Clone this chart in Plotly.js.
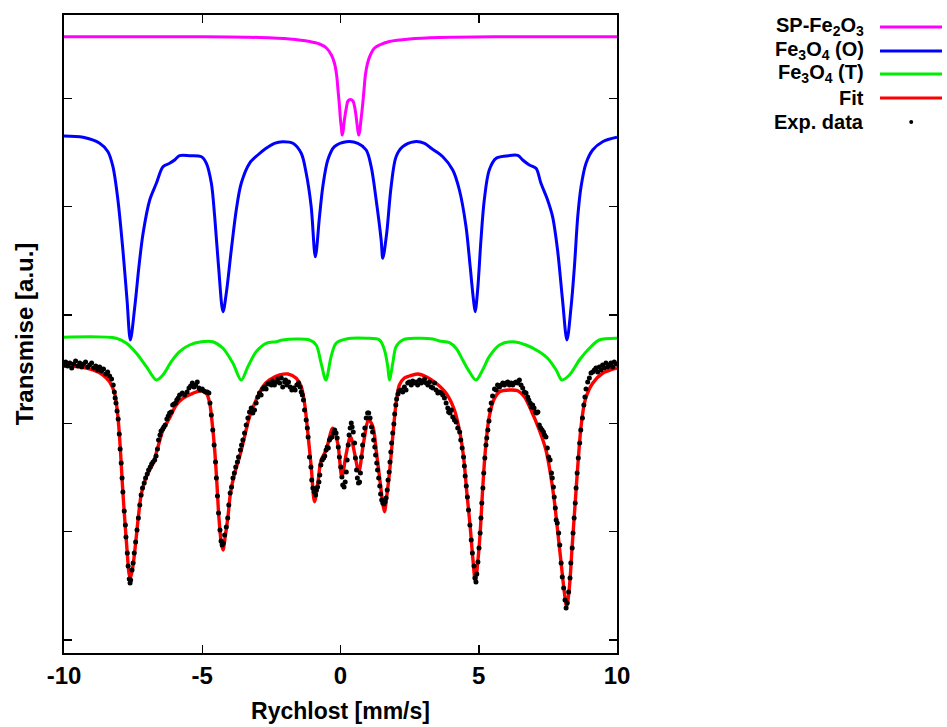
<!DOCTYPE html>
<html><head><meta charset="utf-8">
<script src="https://cdn.plot.ly/plotly-3.0.1.min.js"></script>
<style>html,body{margin:0;padding:0;background:#fff;}#chart{width:947px;height:727px;}</style>
</head><body><div id="chart"></div>
<script>
// ---- data (velocity in mm/s, transmission in arbitrary units) ----
const xTickVals = [-10, -5, 0, 5, 10];
const xTickLabels = ['-10', '-5', '0', '5', '10'];
const legendLabels = ['SP-Fe<sub>2</sub>O<sub>3</sub>', 'Fe<sub>3</sub>O<sub>4</sub> (O)', 'Fe<sub>3</sub>O<sub>4</sub> (T)', 'Fit', 'Exp. data'];

const spX = [-10,-5.10,-2.93,-1.84,-1.12,-0.76,-0.51,-0.33,-0.22,-0.14,-0.09,-0.04,0,0.04,0.06,0.09,0.14,0.21,0.27,0.36,0.45,0.52,0.58,0.63,0.66,0.69,0.74,0.80,0.85,0.90,0.98,1.08,1.23,1.41,1.77,2.49,3.58,5.75,10];
const spY = [603.3,603.2,602.5,601,598.5,596,592,585,577,565,550,535,520,510,505,508,520,532,539,540.5,539,532,520,509,505,508,520,535,550,565,577,585,592,595,598.5,601,602.5,603.2,603.3];

const octX = [-10,-9.31,-8.71,-8.41,-8.23,-8.05,-7.87,-7.72,-7.60,-7.44,
 -7.29,-7.14,-6.90,-6.66,-6.42,-6.18,-6.00,-5.82,-5.46,-5.03,
 -4.85,-4.67,-4.55,-4.41,-4.25,-4.13,-3.95,-3.77,-3.59,-3.29,
 -2.99,-2.69,-2.39,-2.09,-1.72,-1.42,-1.24,-1.06,-0.91,-0.76,
 -0.64,-0.46,-0.22,0.21,0.63,0.93,1.11,1.29,1.47,1.53,
 1.67,1.83,2.01,2.25,2.67,3.04,3.28,3.70,4.06,4.30,
 4.54,4.69,4.81,4.87,4.96,5.08,5.20,5.38,5.63,5.99,
 6.41,6.59,6.83,7.07,7.25,7.49,7.67,7.85,8.03,8.19,
 8.34,8.46,8.58,8.70,8.88,9.12,9.48,10];
const octY = [504,502.7,496.7,488.3,473.3,440,390,340,300,333.3,
 373.3,406.7,440,456.7,473.3,476.7,480,484.3,484.3,483.3,
 476.7,456.7,423.3,373.3,328.3,347,390,430,456.7,476.7,
 485,491.7,496.7,498.3,496.7,486.7,466.7,433.3,383.3,423.3,
 453.3,480,493.3,498.3,496.7,490,473.3,440,400,381.7,
 406.7,453.3,483.3,493.3,498.3,496.7,491.7,483.3,470,450,
 413.3,373.3,340,328.3,350,400,440,470,481.7,484,
 484.7,480,475,471.7,456.7,440,423.3,390,340,300,
 333.3,373.3,423.3,453.3,476.7,490,498.3,502.7];

const tetX = [-10,-8.11,-7.74,-7.38,-7.02,-6.66,-6.42,-6.12,-5.82,-5.46,
 -5.03,-4.62,-4.25,-3.89,-3.59,-3.35,-3.05,-2.69,-2.32,-2.09,
 -1.12,-0.88,-0.70,-0.53,-0.34,-0.16,0.21,0.93,1.41,1.59,
 1.71,1.77,1.89,2.01,2.25,2.74,3.34,3.58,3.94,4.18,
 4.42,4.66,4.90,5.14,5.38,5.75,6.23,6.71,7.19,7.49,
 7.80,8.01,8.28,8.64,9.00,9.36,10];
const tetY = [302.7,301.7,296.7,286.7,273.3,260,265,278.3,288.3,295,
 298.3,298.3,291.7,276.7,260,273.3,288.3,296.7,298.3,300,
 300,295,276.7,260,283.3,296.7,301,301.7,300,290,
 273.3,260,276.7,293.3,300,301.7,301,299,297.3,291.7,
 280,268.3,260,270,283.3,295,298.3,295,288.3,281.7,
 270,260,265,280,291.7,300,301.7];

const fitX = [-10,-9.43,-8.95,-8.59,-8.35,-8.17,-8.05,-7.96,-7.89,-7.81,
 -7.72,-7.65,-7.60,-7.51,-7.41,-7.31,-7.20,-7.02,-6.78,-6.60,
 -6.42,-6.18,-5.94,-5.70,-5.34,-5.03,-4.85,-4.73,-4.64,-4.55,
 -4.47,-4.40,-4.31,-4.25,-4.17,-4.07,-3.98,-3.83,-3.65,-3.47,
 -3.29,-3.05,-2.81,-2.57,-2.20,-1.90,-1.60,-1.42,-1.30,-1.18,
 -1.06,-0.94,-0.82,-0.70,-0.52,-0.28,-0.10,0.05,0.21,0.36,
 0.51,0.66,0.83,1.02,1.17,1.29,1.41,1.53,1.59,1.67,
 1.77,1.89,2.01,2.13,2.31,2.49,2.79,3.10,3.46,3.82,
 4.12,4.30,4.45,4.56,4.69,4.78,4.88,4.96,5.05,5.14,
 5.24,5.38,5.57,5.75,6.11,6.41,6.65,6.89,7.19,7.43,
 7.61,7.73,7.85,7.98,8.10,8.18,8.28,8.37,8.47,8.58,
 8.70,8.85,9.12,9.48,10];
const fitY = [274,273.3,270,265,258.3,246.7,223.3,190,156.7,123.3,
 90,66.7,61.7,73.3,96.7,123.3,146.7,163.3,176.7,193.3,
 210,222,235,241.7,246.7,249.3,246.7,236.7,216.7,190,
 156.7,123.3,96.7,90,103.3,123.3,146.7,166.7,183.3,203.3,
 223.3,240,253.3,260,265,266,261.7,253.3,236.7,206.7,
 173.3,138.3,156.7,180,190,211.7,196.7,163.3,186.7,203.3,
 186.7,168.3,196.7,220,213.3,190,163.3,136.7,128.3,143.3,
 166.7,203.3,236.7,255,262,264,266,263.3,256.7,246.7,
 230,210,183.3,150,113.3,83.3,58.3,76.7,106.7,150,
 190,223.3,241.7,248.3,250,249.3,243.3,230,210,190,
 163.3,140,110,76.7,46.7,33.3,53.3,90,130,173.3,
 213.3,240,256.7,266.7,272];

const expX = [-9.98,-9.94,-9.87,-9.79,-9.72,-9.65,-9.58,-9.50,-9.43,-9.36,
 -9.29,-9.22,-9.14,-9.07,-9.00,-8.93,-8.85,-8.78,-8.71,-8.64,
 -8.57,-8.49,-8.42,-8.35,-8.28,-8.22,-8.18,-8.15,-8.12,-8.08,
 -8.04,-8.00,-7.97,-7.93,-7.90,-7.87,-7.82,-7.78,-7.76,-7.71,
 -7.68,-7.64,-7.61,-7.59,-7.54,-7.50,-7.46,-7.41,-7.36,-7.31,
 -7.26,-7.21,-7.16,-7.10,-7.05,-6.99,-6.94,-6.88,-6.83,-6.78,
 -6.72,-6.67,-6.62,-6.58,-6.53,-6.49,-6.43,-6.39,-6.34,-6.28,
 -6.23,-6.18,-6.12,-6.07,-6.02,-5.96,-5.92,-5.87,-5.82,-5.72,
 -5.64,-5.55,-5.48,-5.42,-5.36,-5.30,-5.24,-5.18,-5.12,-5.06,
 -5.00,-4.94,-4.88,-4.82,-4.76,-4.72,-4.67,-4.62,-4.57,-4.52,
 -4.49,-4.45,-4.41,-4.36,-4.32,-4.28,-4.24,-4.19,-4.13,-4.08,
 -4.04,-3.99,-3.94,-3.89,-3.84,-3.79,-3.73,-3.69,-3.62,-3.58,
 -3.53,-3.47,-3.41,-3.35,-3.29,-3.23,-3.17,-3.11,-3.05,-2.99,
 -2.93,-2.87,-2.81,-2.75,-2.69,-2.63,-2.57,-2.50,-2.45,-2.39,
 -2.32,-2.27,-2.20,-2.14,-2.09,-2.02,-1.99,-1.94,-1.88,-1.82,
 -1.76,-1.70,-1.64,-1.58,-1.52,-1.46,-1.42,-1.38,-1.34,-1.30,
 -1.24,-1.20,-1.17,-1.12,-1.07,-1.04,-1.00,-0.95,-0.90,-0.87,
 -0.83,-0.78,-0.75,-0.71,-0.66,-0.61,-0.57,-0.52,-0.48,-0.44,
 -0.40,-0.36,-0.31,-0.25,-0.21,-0.16,-0.12,-0.08,-0.04,0.01,
 0.05,0.08,0.13,0.17,0.21,0.24,0.28,0.31,0.35,0.39,
 0.42,0.46,0.51,0.54,0.58,0.61,0.65,0.69,0.72,0.76,
 0.80,0.83,0.88,0.93,0.98,1.02,1.07,1.12,1.16,1.20,
 1.24,1.27,1.31,1.34,1.38,1.42,1.45,1.49,1.53,1.57,
 1.61,1.65,1.69,1.72,1.76,1.79,1.82,1.85,1.89,1.93,
 1.96,2.00,2.03,2.08,2.12,2.19,2.25,2.31,2.37,2.43,
 2.49,2.56,2.61,2.67,2.74,2.79,2.86,2.92,2.97,3.04,
 3.10,3.16,3.22,3.28,3.34,3.40,3.46,3.52,3.58,3.64,
 3.70,3.76,3.82,3.88,3.91,3.96,4.01,4.06,4.12,4.18,
 4.24,4.31,4.35,4.40,4.45,4.48,4.51,4.55,4.59,4.63,
 4.68,4.73,4.77,4.83,4.86,4.90,4.93,4.97,5.01,5.05,
 5.08,5.11,5.15,5.18,5.22,5.26,5.29,5.33,5.37,5.40,
 5.45,5.50,5.57,5.63,5.68,5.75,5.81,5.87,5.93,5.99,
 6.05,6.11,6.17,6.23,6.29,6.35,6.41,6.47,6.53,6.59,
 6.65,6.71,6.77,6.81,6.86,6.90,6.95,7.00,7.05,7.09,
 7.14,7.19,7.24,7.29,7.34,7.38,7.43,7.48,7.53,7.58,
 7.63,7.66,7.70,7.73,7.77,7.80,7.84,7.89,7.93,7.98,
 8.02,8.07,8.12,8.16,8.20,8.25,8.30,8.33,8.38,8.41,
 8.45,8.49,8.52,8.56,8.60,8.65,8.69,8.75,8.80,8.84,
 8.88,8.94,9.00,9.06,9.12,9.18,9.24,9.30,9.36,9.42,
 9.48,9.54,9.60,9.66,9.72,9.78,9.84,9.90,9.96];
const expY = [275,278,274,277,272,276,279,274,277,273,
 276,278,273,275,277,272,274,270,273,269,
 271,266,268,264,261,255,248,242,237,229,
 221,206,191,177,162,148,129,115,103,87,
 74,61,57,60,70,77,87,98,110,122,
 135,145,152,157,162,166,170,173,176,178,
 180,184,191,200,205,209,211,213,215,221,
 224,227,228,235,236,237,240,242,245,247,
 245,248,252,254,257,253,255,258,252,250,
 251,249,248,248,247,237,225,210,195,178,
 162,144,127,110,99,95,97,105,113,122,
 135,147,153,162,167,173,178,183,190,195,
 200,207,215,222,228,232,227,230,237,243,
 247,245,251,253,251,256,257,255,259,255,
 258,261,257,262,253,258,260,255,258,253,
 250,252,250,255,257,253,248,245,240,230,
 220,212,203,183,173,160,152,148,145,150,
 153,158,165,175,180,182,184,190,193,192,
 200,202,203,207,210,207,202,193,183,173,
 163,155,153,158,168,180,195,205,212,217,
 213,208,197,182,170,162,157,158,167,183,
 195,205,212,222,227,227,222,213,208,200,
 193,185,177,170,162,154,146,140,137,136,
 138,142,150,160,168,178,188,197,207,216,
 226,235,241,246,249,250,248,253,250,257,
 258,255,259,257,258,255,260,257,258,261,
 257,255,258,253,252,257,250,247,248,247,
 245,242,237,232,228,227,230,223,220,218,
 212,208,200,192,183,174,164,154,143,130,
 115,100,87,74,62,58,66,78,92,107,
 122,137,152,167,182,195,202,210,219,230,
 237,244,251,250,255,253,255,257,255,257,
 258,255,257,255,257,258,257,260,255,252,
 248,247,243,240,237,233,235,232,228,227,
 228,215,212,210,208,205,203,192,183,180,
 167,162,153,143,132,120,117,107,95,77,
 63,52,40,32,37,48,62,77,92,107,
 122,137,152,167,182,197,210,222,235,243,
 251,258,262,267,268,270,272,268,273,270,
 275,272,277,273,275,277,273,278,276];

// ---- styling ----
const FONT = 'Liberation Sans, Arial, Helvetica, sans-serif';
const colors = ['#ff00ff', '#0000ff', '#00ee00', '#ff0000', '#000000'];

function curve(x, y, color, w, name) {
  return {x: x, y: y, type: 'scatter', mode: 'lines', name: name, showlegend: false,
          hoverinfo: 'skip', line: {color: color, width: w, shape: 'spline', smoothing: 0.9}};
}
const traces = [
  curve(spX, spY, colors[0], 3, legendLabels[0]),
  curve(octX, octY, colors[1], 3, legendLabels[1]),
  curve(tetX, tetY, colors[2], 3, legendLabels[2]),
  curve(fitX, fitY, colors[3], 3.4, legendLabels[3]),
  {x: expX, y: expY, type: 'scatter', mode: 'markers', name: legendLabels[4], showlegend: false,
   hoverinfo: 'skip', marker: {color: colors[4], size: 5, line: {width: 0}}}
];

// custom legend (text right-aligned, sample on the right), placed in paper coordinates
const L = 64, W = 553, T = 15, H = 638;
const px2x = p => (p - L) / W;
const py2y = p => (T + H - p) / H;
const legendRowsPx = [27, 51, 74, 98, 122];
const annotations = legendLabels.map((t, i) => ({
  xref: 'paper', yref: 'paper', x: px2x(866), y: py2y(legendRowsPx[i]),
  xanchor: 'right', yanchor: 'middle', showarrow: false, text: t,
  font: {family: FONT, size: 20, weight: 'bold', color: '#000'}
}));
const shapes = [];
for (let i = 0; i < 4; i++) {
  shapes.push({type: 'line', xref: 'paper', yref: 'paper',
    x0: px2x(880), x1: px2x(942), y0: py2y(legendRowsPx[i]), y1: py2y(legendRowsPx[i]),
    line: {color: colors[i], width: 3}});
}
shapes.push({type: 'circle', xref: 'paper', yref: 'paper', fillcolor: '#000', line: {width: 0},
  x0: px2x(909.2), x1: px2x(913.2), y0: py2y(legendRowsPx[4] + 2), y1: py2y(legendRowsPx[4] - 2)});

const axisCommon = {showline: true, linecolor: '#000', linewidth: 2, mirror: 'ticks',
  ticks: 'inside', ticklen: 8, tickwidth: 1.5, tickcolor: '#000',
  showgrid: false, zeroline: false, automargin: false, fixedrange: true};

const layout = {
  width: 947, height: 727,
  margin: {l: L, r: 947 - L - W, t: T, b: 727 - T - H, pad: 0},
  paper_bgcolor: '#ffffff', plot_bgcolor: '#ffffff',
  showlegend: false,
  font: {family: FONT, color: '#000'},
  xaxis: Object.assign({}, axisCommon, {
    range: [-10, 10], tickmode: 'array', tickvals: xTickVals, ticktext: xTickLabels,
    tickfont: {family: FONT, size: 24, weight: 'bold', color: '#000'},
    title: {text: 'Rychlost [mm/s]', font: {family: FONT, size: 23, weight: 'bold', color: '#000'}, standoff: 15}
  }),
  yaxis: Object.assign({}, axisCommon, {
    range: [-13, 625], tick0: 0, dtick: 108.33, showticklabels: false,
    title: {text: 'Transmise [a.u.]', font: {family: FONT, size: 24, weight: 'bold', color: '#000'}, standoff: 22}
  }),
  annotations: annotations,
  shapes: shapes
};

Plotly.newPlot('chart', traces, layout, {staticPlot: true, displayModeBar: false});
</script>
</body></html>
